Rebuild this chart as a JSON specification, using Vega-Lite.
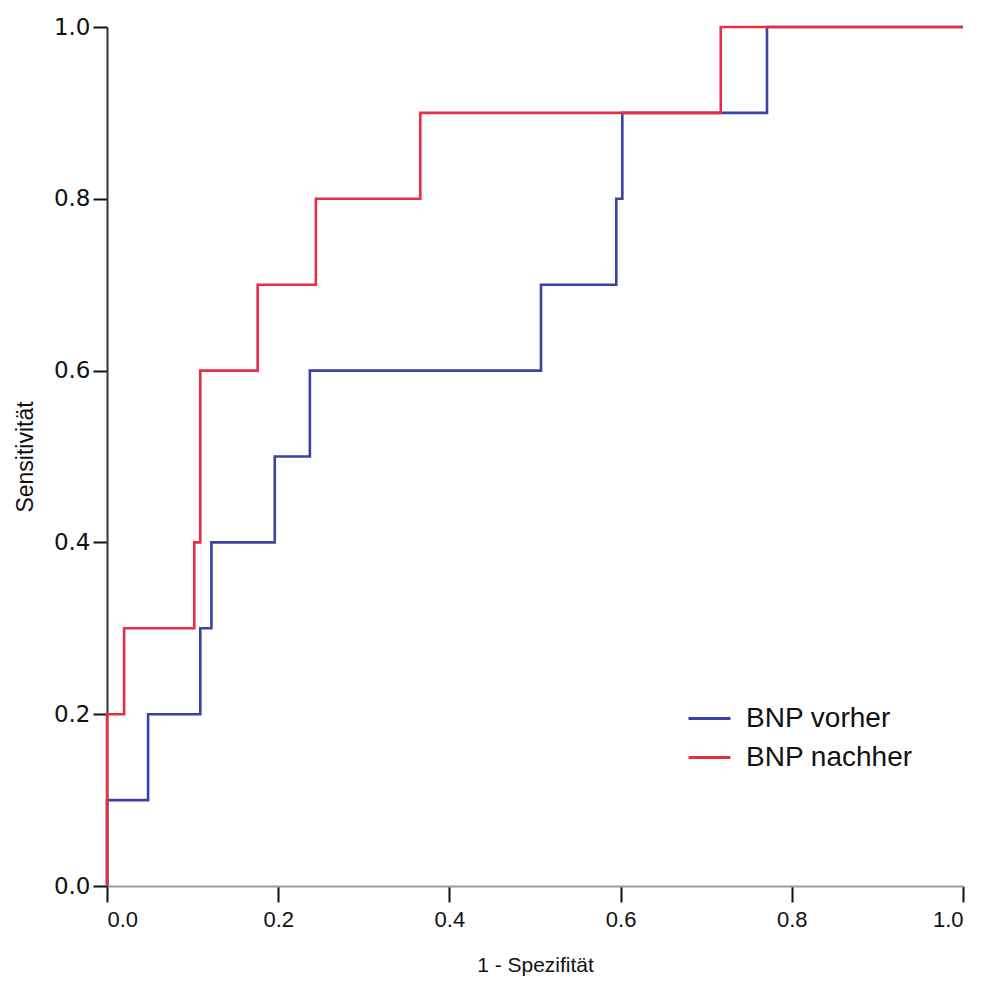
{
  "$schema": "https://vega.github.io/schema/vega-lite/v6.json",
  "autosize": "none",
  "width": 856,
  "height": 859,
  "padding": {"left": 107, "top": 27, "right": 26, "bottom": 97},
  "background": "white",
  "config": {"view": {"stroke": null}},
  "data": {
    "values": [
      {"series": "BNP vorher", "fpr": 0.0, "tpr": 0.0},
      {"series": "BNP vorher", "fpr": 0.0, "tpr": 0.1},
      {"series": "BNP vorher", "fpr": 0.048, "tpr": 0.2},
      {"series": "BNP vorher", "fpr": 0.109, "tpr": 0.3},
      {"series": "BNP vorher", "fpr": 0.122, "tpr": 0.4},
      {"series": "BNP vorher", "fpr": 0.196, "tpr": 0.5},
      {"series": "BNP vorher", "fpr": 0.237, "tpr": 0.6},
      {"series": "BNP vorher", "fpr": 0.507, "tpr": 0.7},
      {"series": "BNP vorher", "fpr": 0.595, "tpr": 0.8},
      {"series": "BNP vorher", "fpr": 0.602, "tpr": 0.9},
      {"series": "BNP vorher", "fpr": 0.771, "tpr": 1.0},
      {"series": "BNP vorher", "fpr": 1.0, "tpr": 1.0},
      {"series": "BNP nachher", "fpr": 0.0, "tpr": 0.0},
      {"series": "BNP nachher", "fpr": 0.0, "tpr": 0.2},
      {"series": "BNP nachher", "fpr": 0.020, "tpr": 0.3},
      {"series": "BNP nachher", "fpr": 0.102, "tpr": 0.4},
      {"series": "BNP nachher", "fpr": 0.109, "tpr": 0.6},
      {"series": "BNP nachher", "fpr": 0.176, "tpr": 0.7},
      {"series": "BNP nachher", "fpr": 0.244, "tpr": 0.8},
      {"series": "BNP nachher", "fpr": 0.366, "tpr": 0.9},
      {"series": "BNP nachher", "fpr": 0.717, "tpr": 1.0},
      {"series": "BNP nachher", "fpr": 1.0, "tpr": 1.0}
    ]
  },
  "mark": {"type": "line", "interpolate": "step-after", "strokeWidth": 2.6},
  "encoding": {
    "x": {
      "field": "fpr", "type": "quantitative",
      "scale": {"domain": [0, 1], "nice": false, "zero": false},
      "axis": {
        "title": "1 - Spezifität", "values": [0, 0.2, 0.4, 0.6, 0.8, 1.0], "format": ".1f",
        "grid": false, "domainColor": "#9a9aaa", "domainWidth": 2, "tickColor": "#111", "tickWidth": 2, "tickSize": 16,
        "labelFont": "Liberation Sans", "labelFontSize": 22, "labelColor": "#111", "labelPadding": 7,
        "titleFont": "Liberation Sans", "titleFontSize": 21, "titleFontWeight": "normal", "titleColor": "#111", "titlePadding": 24
      }
    },
    "y": {
      "field": "tpr", "type": "quantitative",
      "scale": {"domain": [0, 1], "nice": false, "zero": false},
      "axis": {
        "title": "Sensitivität", "values": [0, 0.2, 0.4, 0.6, 0.8, 1.0], "format": ".1f",
        "grid": false, "domainColor": "#333", "domainWidth": 2, "tickColor": "#111", "tickWidth": 2, "tickSize": 14,
        "labelFont": "DejaVu Sans", "labelFontSize": 23, "labelColor": "#111", "labelPadding": 3,
        "titleFont": "Liberation Sans", "titleFontSize": 23, "titleFontWeight": "normal", "titleColor": "#111", "titlePadding": 16
      }
    },
    "color": {
      "field": "series", "type": "nominal",
      "scale": {"domain": ["BNP vorher", "BNP nachher"], "range": ["#3d41a3", "#e62e45"]},
      "legend": {
        "title": null, "orient": "none", "legendX": 580, "legendY": 669,
        "symbolType": "stroke", "symbolSize": 1764, "symbolStrokeWidth": 3,
        "labelFont": "Liberation Sans", "labelFontSize": 28, "labelColor": "#111", "labelOffset": 14, "labelLimit": 400,
        "rowPadding": 2
      }
    }
  }
}
